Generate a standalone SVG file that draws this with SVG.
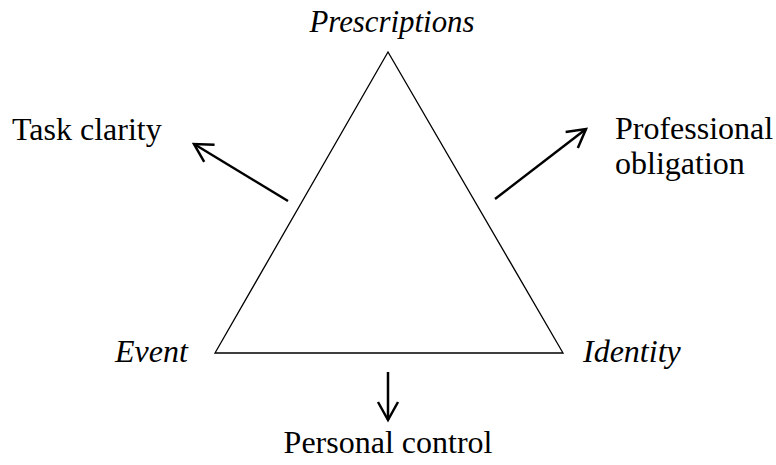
<svg xmlns="http://www.w3.org/2000/svg" width="776" height="465" viewBox="0 0 776 465">
<style>
text{font-family:"Liberation Serif","Times New Roman",serif;font-size:32px;fill:#000}
.i{font-style:italic}
.ln{stroke:#000;stroke-width:2.5;fill:none}
</style>
<defs>
<marker id="ah2" markerWidth="24" markerHeight="24" refX="20" refY="12" orient="auto" markerUnits="userSpaceOnUse">
<path d="M2,2 L20,12 L2,22" fill="none" stroke="#000" stroke-width="2.5"/>
</marker>
</defs>
<rect width="776" height="465" fill="#fff"/>
<g id="triangle"><polygon points="388,52 215,353 563,353" fill="none" stroke="#000" stroke-width="1.3"/></g>
<g id="prescriptions"><text class="i" x="392" y="32" text-anchor="middle" textLength="165" lengthAdjust="spacingAndGlyphs">Prescriptions</text></g>
<g id="event"><text class="i" x="115" y="362">Event</text></g>
<g id="identity"><text class="i" x="583" y="362">Identity</text></g>
<g id="task-clarity"><text x="12" y="140">Task clarity</text></g>
<g id="professional-obligation"><text x="615" y="139">Professional</text><text x="615" y="174">obligation</text></g>
<g id="personal-control"><text x="388" y="453" text-anchor="middle">Personal control</text></g>
<g id="connectors">
<line class="ln" x1="288" y1="201" x2="194" y2="144" marker-end="url(#ah2)"/>
<line class="ln" x1="495" y1="199" x2="586" y2="129" marker-end="url(#ah2)"/>
<line class="ln" x1="388" y1="372" x2="388" y2="420" marker-end="url(#ah2)"/>
</g>
</svg>
